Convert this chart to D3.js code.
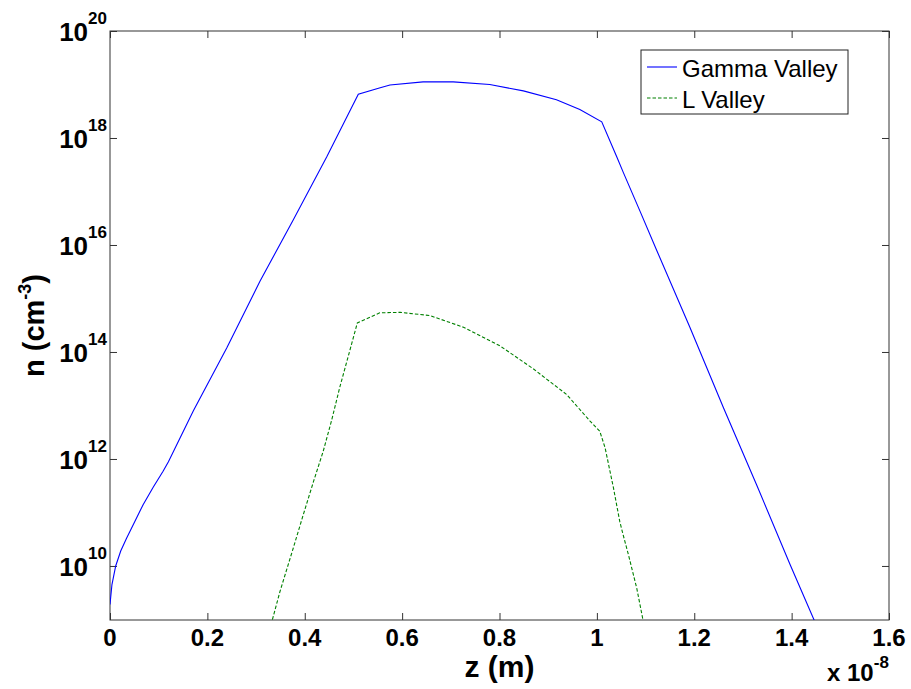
<!DOCTYPE html>
<html>
<head>
<meta charset="utf-8">
<script src="https://cdn.jsdelivr.net/npm/d3@7"></script>
<style>
  body { margin: 0; background: #fff; }
  text { font-family: "Liberation Sans", Arial, sans-serif; fill: #000; }
</style>
</head>
<body>
<svg width="911" height="689"></svg>
<script>
// z positions (units of 1e-8 m) and carrier density n (cm^-3)
var zGamma = [0.000, 0.004, 0.0117, 0.022, 0.034, 0.051, 0.068, 0.089, 0.109, 0.120,
              0.171, 0.240, 0.308, 0.376, 0.445, 0.510, 0.555, 0.575, 0.643, 0.705,
              0.780, 0.849, 0.917, 0.965, 1.010, 1.041, 1.054, 1.089, 1.123, 1.191,
              1.260, 1.328, 1.397, 1.460];
var nGamma = [1.9e9, 4.5e9, 1.0e10, 1.9e10, 3.3e10, 6.8e10, 1.4e11, 3.0e11, 5.9e11, 8.9e11,
              7.9e12, 1.2e14, 2.1e15, 2.9e16, 4.4e17, 6.6e18, 8.7e18, 9.8e18, 1.12e19, 1.12e19,
              1.0e19, 7.6e18, 5.2e18, 3.4e18, 2.0e18, 4.4e17, 2.3e17, 4.2e16, 7.9e15, 2.9e14,
              9.1e12, 3.3e11, 1.05e10, 5.0e8];

var zL = [0.325, 0.333, 0.349, 0.376, 0.397, 0.418, 0.438, 0.455, 0.472, 0.493,
          0.508, 0.554, 0.596, 0.657, 0.726, 0.801, 0.870, 0.938, 0.986, 1.006,
          1.017, 1.034, 1.047, 1.054, 1.065, 1.082, 1.095, 1.100];
var nL = [5.0e8, 9.5e8, 3.3e9, 2.1e10, 9.1e10, 3.8e11, 1.4e12, 5.2e12, 2.2e13, 1.1e14,
          3.5e14, 5.4e14, 5.5e14, 4.8e14, 2.9e14, 1.3e14, 4.8e13, 1.6e13, 5.1e12, 3.3e12,
          1.6e12, 2.9e11, 6.8e10, 3.8e10, 1.6e10, 3.8e9, 9.5e8, 5.6e8];

var xTicks = [0, 0.2, 0.4, 0.6, 0.8, 1, 1.2, 1.4, 1.6];
var yExps = [10, 12, 14, 16, 18, 20];
var legendNames = ["Gamma Valley", "L Valley"];

var svg = d3.select("svg");
var mLeft = 110, mRight = 889, mTop = 31, mBottom = 620;

var x = d3.scaleLinear().domain([0, 1.6]).range([mLeft, mRight]);
var y = d3.scaleLog().domain([Math.pow(10, 8.99), 1e20]).range([mBottom, mTop]);

svg.append("clipPath").attr("id", "plotclip")
  .append("rect")
    .attr("x", mLeft).attr("y", mTop)
    .attr("width", mRight - mLeft).attr("height", mBottom - mTop);

// ticks, inward on all four sides
var tickLen = 7;
svg.append("g").attr("transform", "translate(0," + mBottom + ")")
  .call(d3.axisBottom(x).tickValues(xTicks).tickSize(-tickLen).tickFormat(""));
svg.append("g").attr("transform", "translate(0," + mTop + ")")
  .call(d3.axisTop(x).tickValues(xTicks).tickSize(-tickLen).tickFormat(""));
var yVals = yExps.map(function(e) { return Math.pow(10, e); });
svg.append("g").attr("transform", "translate(" + mLeft + ",0)")
  .call(d3.axisLeft(y).tickValues(yVals).tickSize(-tickLen).tickFormat(""));
svg.append("g").attr("transform", "translate(" + mRight + ",0)")
  .call(d3.axisRight(y).tickValues(yVals).tickSize(-tickLen).tickFormat(""));
svg.selectAll(".domain").remove();
svg.selectAll(".tick line").attr("stroke", "#333");

svg.append("rect")
  .attr("x", mLeft).attr("y", mTop)
  .attr("width", mRight - mLeft).attr("height", mBottom - mTop)
  .attr("fill", "none").attr("stroke", "#333").attr("stroke-width", 1);

// x tick labels
svg.selectAll(".xlab").data(xTicks).enter().append("text")
  .attr("class", "xlab")
  .attr("x", function(d) { return x(d); })
  .attr("y", 646)
  .attr("text-anchor", "middle")
  .style("font-size", "24px").style("font-weight", "bold")
  .text(function(d) { return d; });

// y tick labels 10^e
var ylab = svg.selectAll(".ylab").data(yExps).enter().append("text")
  .attr("class", "ylab")
  .attr("x", 107)
  .attr("y", function(d) { return y(Math.pow(10, d)) + 10; })
  .attr("text-anchor", "end")
  .style("font-weight", "bold");
ylab.append("tspan").style("font-size", "26px").text("10");
ylab.append("tspan").style("font-size", "17px").attr("dy", -17)
  .text(function(d) { return d; });

// exponent multiplier
var mult = svg.append("text").attr("x", 827).attr("y", 681)
  .style("font-weight", "bold");
mult.append("tspan").style("font-size", "24px").text("x 10");
mult.append("tspan").style("font-size", "17px").attr("dy", -13).text("-8");

// axis titles
svg.append("text")
  .attr("x", (mLeft + mRight) / 2).attr("y", 677)
  .attr("text-anchor", "middle")
  .style("font-size", "30px").style("font-weight", "bold")
  .text("z (m)");

var yt = svg.append("text")
  .attr("transform", "translate(44," + ((mTop + mBottom) / 2) + ") rotate(-90)")
  .attr("text-anchor", "middle")
  .style("font-weight", "bold");
yt.append("tspan").style("font-size", "29px").text("n (cm");
yt.append("tspan").style("font-size", "18px").attr("dy", -13).text("-3");
yt.append("tspan").style("font-size", "29px").attr("dy", 13).text(")");

// curves
var line = d3.line()
  .x(function(d) { return x(d[0]); })
  .y(function(d) { return y(d[1]); });

var plot = svg.append("g").attr("clip-path", "url(#plotclip)");
plot.append("path")
  .datum(d3.zip(zGamma, nGamma))
  .attr("d", line)
  .attr("fill", "none").attr("stroke", "#0000ff").attr("stroke-width", 1.1);
plot.append("path")
  .datum(d3.zip(zL, nL))
  .attr("d", line)
  .attr("fill", "none").attr("stroke", "#008000").attr("stroke-width", 1.1)
  .attr("stroke-dasharray", "3.5,2");

// legend
var lg = svg.append("g");
lg.append("rect")
  .attr("x", 641).attr("y", 50).attr("width", 207).attr("height", 64)
  .attr("fill", "#fff").attr("stroke", "#222").attr("stroke-width", 1);
var legColors = ["#0000ff", "#008000"];
var legDash = [null, "3.5,2"];
var legY = [67, 98];
legendNames.forEach(function(name, i) {
  lg.append("line")
    .attr("x1", 647).attr("x2", 677).attr("y1", legY[i]).attr("y2", legY[i])
    .attr("stroke", legColors[i]).attr("stroke-width", 1.1)
    .attr("stroke-dasharray", legDash[i]);
  lg.append("text")
    .attr("x", 682).attr("y", legY[i] + 9.5)
    .style("font-size", "24px")
    .text(name);
});
</script>
</body>
</html>
